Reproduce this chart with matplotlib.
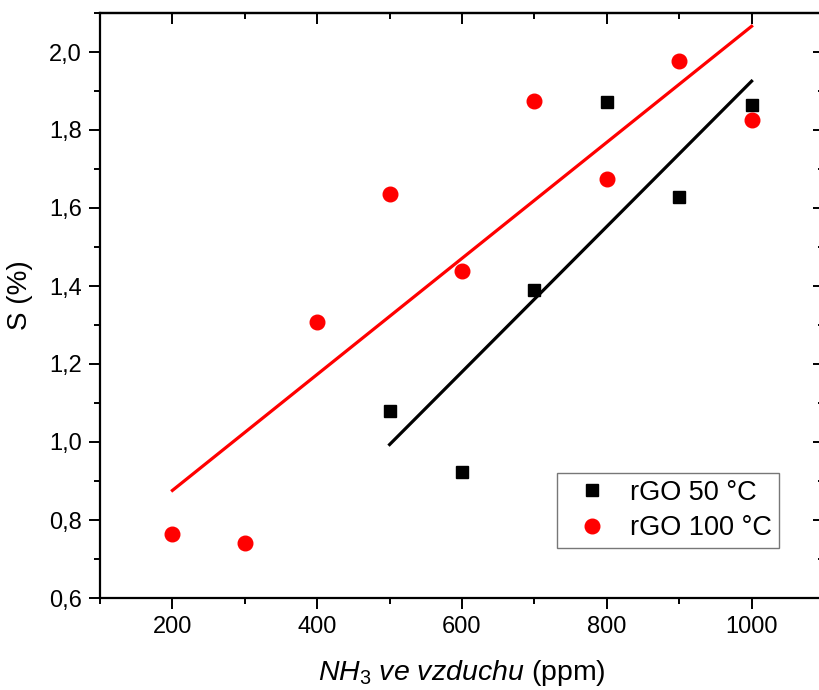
import numpy as np
import matplotlib
matplotlib.use("Agg")
import matplotlib.pyplot as plt
from matplotlib.ticker import MultipleLocator, FuncFormatter

plt.rcParams['font.family'] = ['Liberation Sans', 'DejaVu Sans']
plt.rcParams['mathtext.fontset'] = 'custom'
plt.rcParams['mathtext.rm'] = 'Liberation Sans'
plt.rcParams['mathtext.it'] = 'Liberation Sans:italic'

x50 = [500, 600, 700, 800, 900, 1000]
s50 = [1.079, 0.923, 1.390, 1.872, 1.628, 1.864]
x100 = [200, 300, 400, 500, 600, 700, 800, 900, 1000]
s100 = [0.764, 0.741, 1.308, 1.636, 1.438, 1.874, 1.674, 1.977, 1.826]
labels = ['rGO 50 °C', 'rGO 100 °C']

fig = plt.figure(figsize=(8.2, 6.9), dpi=100)
ax = fig.add_axes([100/820, 1-598/690, 724/820, 585/690])

for xs, ys, c in [(x50, s50, 'black'), (x100, s100, 'red')]:
    p = np.polyfit(xs, ys, 1)
    xx = np.array([min(xs), max(xs)])
    ax.plot(xx, np.polyval(p, xx), color=c, lw=2.3, zorder=2)

ax.plot(x50, s50, 's', color='black', ms=9, ls='none', label=labels[0], zorder=3)
ax.plot(x100, s100, 'o', color='red', ms=10.5, ls='none', label=labels[1], zorder=3)

ax.set_xlim(100, 1100)
ax.set_ylim(0.6, 2.1)
ax.xaxis.set_major_locator(MultipleLocator(200))
ax.xaxis.set_minor_locator(MultipleLocator(100))
ax.yaxis.set_major_locator(MultipleLocator(0.2))
ax.yaxis.set_minor_locator(MultipleLocator(0.1))
ax.yaxis.set_major_formatter(FuncFormatter(lambda v, p: f"{v:.1f}".replace('.', ',')))
ax.xaxis.set_major_formatter(FuncFormatter(lambda v, p: f"{v:.0f}"))

for s in ax.spines.values():
    s.set_linewidth(1.6)

ax.tick_params(axis='both', which='major', direction='out', length=8, width=1.4,
               labelsize=17, pad=5)
ax.tick_params(axis='both', which='minor', direction='out', length=4.5, width=1.4)
# mirrored inward ticks on top/right
axt = ax.secondary_xaxis('top')
axt.xaxis.set_major_locator(MultipleLocator(200))
axt.xaxis.set_minor_locator(MultipleLocator(100))
axt.tick_params(which='major', direction='in', length=8, width=1.4, labeltop=False)
axt.tick_params(which='minor', direction='in', length=4.5, width=1.4)
axt.set_xticklabels([])
axr = ax.secondary_yaxis('right')
axr.yaxis.set_major_locator(MultipleLocator(0.2))
axr.yaxis.set_minor_locator(MultipleLocator(0.1))
axr.tick_params(which='major', direction='in', length=8, width=1.4)
axr.tick_params(which='minor', direction='in', length=4.5, width=1.4)
axr.set_yticklabels([])
for sa in (axt, axr):
    for s in sa.spines.values():
        s.set_linewidth(1.6)

ax.set_xlabel(r'$\mathit{NH_3\ ve\ vzduchu}$ (ppm)', fontsize=20.5, labelpad=14)
ax.set_ylabel('S (%)', fontsize=20)
ax.yaxis.set_label_coords(-0.0925, 0.518)

leg = ax.legend(loc='upper left', bbox_to_anchor=((557-100)/724, 1-(473-13)/585),
                fontsize=19.5, frameon=True, fancybox=False, edgecolor='#555555',
                handletextpad=0.35, borderpad=0.25, labelspacing=0.35, handlelength=2.1,
                borderaxespad=0)
leg.get_frame().set_linewidth(1.0)

fig.savefig('out.png', dpi=100)
